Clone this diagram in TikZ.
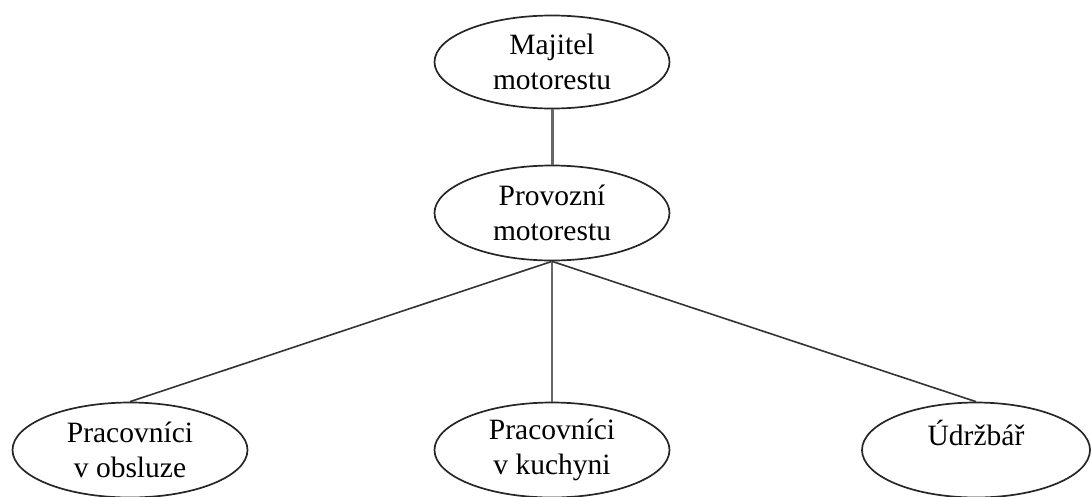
\documentclass[tikz,border=0pt]{standalone}
\usepackage{fontspec}
\setmainfont{Liberation Serif}
\usetikzlibrary{shapes.geometric}
\begin{document}
\begin{tikzpicture}[x=1pt,y=-1pt,
  oval/.style={draw=black!85, line width=1.7pt, ellipse, minimum width=235pt, minimum height=95pt, inner sep=0pt, align=center, font=\fontsize{29.5}{35}\selectfont},
  thick link/.style={draw=black!60, line width=3pt},
  link/.style={draw=black!80, line width=1.6pt}]
\useasboundingbox (0,0) rectangle (1091,496);
\node[oval, minimum height=93pt] (own) at (552,62) {Majitel\\motorestu};
\node[oval] (mgr) at (552,213) {Provozní\\motorestu};
\node[oval] (srv) at (130,450) {Pracovníci\\v obsluze};
\node[oval] (kit) at (552,450) {Pracovníci\\v kuchyni};
\node[oval, minimum width=228pt] (mnt) at (976,450) {Údržbář\\\mbox{}};
\draw[thick link] (own) -- (mgr);
\draw[link] (mgr.south) -- (srv.north);
\draw[thick link, line width=2.6pt] (mgr.south) -- (kit.north);
\draw[link] (mgr.south) -- (mnt.north);
\end{tikzpicture}
\end{document}
